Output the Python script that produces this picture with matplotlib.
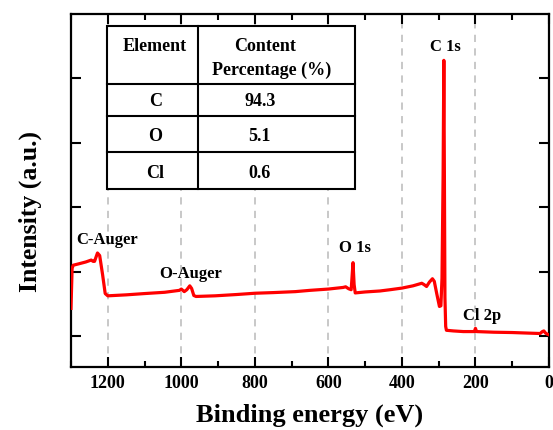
import matplotlib
matplotlib.use("Agg")
import matplotlib.pyplot as plt
from matplotlib.patches import Rectangle
from matplotlib.ticker import MultipleLocator

# ---- data ----
binding_energy = [1300, 1297, 1294, 1280, 1260, 1245, 1240, 1236, 1228, 1222, 1214, 1207,
                  1200, 1150, 1100, 1045, 1005, 1000, 992, 985, 977, 972, 966, 960,
                  908, 850, 800, 750, 690, 650, 600, 560, 553, 545, 538, 533, 530, 527,
                  500, 460, 432, 400, 370, 346, 340, 333, 325, 317, 312, 305, 298,
                  294, 291, 288, 286, 284.5, 283, 281, 279, 260, 233, 203, 200, 197,
                  150, 100, 50, 24, 18, 14, 10, 5, 0]
intensity = [0.43, 1.05, 1.10, 1.12, 1.15, 1.18, 1.16, 1.16, 1.29, 1.25, 0.95, 0.66,
             0.625, 0.64, 0.66, 0.68, 0.71, 0.73, 0.69, 0.72, 0.78, 0.74, 0.63, 0.615,
             0.625, 0.645, 0.665, 0.675, 0.69, 0.71, 0.73, 0.755, 0.765, 0.735, 0.72, 1.14, 0.80, 0.67,
             0.685, 0.70, 0.72, 0.745, 0.78, 0.82, 0.80, 0.77, 0.84, 0.89, 0.85, 0.65, 0.46,
             0.47, 0.9, 2.5, 4.28, 2.5, 0.6, 0.15, 0.09, 0.08, 0.07, 0.07, 0.12, 0.07,
             0.06, 0.055, 0.045, 0.04, 0.07, 0.08, 0.05, 0.03, 0.02]

peak_labels = ["C-Auger", "O-Auger", "O 1s", "C 1s", "Cl 2p"]
peak_label_x = [1203, 975, 527, 281, 183]
peak_label_y = [1.49, 0.96, 1.36, 4.49, 0.31]

table_header = ["Element", "Content\nPercentage (%)"]
elements = ["C", "O", "Cl"]
percentages = ["94.3", "5.1", "0.6"]

x_ticks = [1200, 1000, 800, 600, 400, 200, 0]

FONT = "Liberation Serif"
plt.rcParams["font.family"] = [FONT, "DejaVu Serif"]
plt.rcParams["font.weight"] = "bold"

fig = plt.figure(figsize=(5.53, 4.30), dpi=100)
ax = fig.add_axes([71 / 553, 1 - 367 / 430, 478 / 553, 353 / 430])

ax.plot(binding_energy, intensity, color="#ff0000", lw=2.3, zorder=3)

ax.set_xlim(1300, 0)
ax.set_ylim(-0.48, 5.0)
ax.set_xticks(x_ticks)
ax.xaxis.set_minor_locator(MultipleLocator(100))
ax.set_yticks([0, 1, 2, 3, 4])
ax.set_yticklabels([])

for t in ax.get_xticklabels():
    t.set_fontweight("bold")
ax.tick_params(axis="both", which="major", direction="in", length=7, width=1.5,
               top=True, right=True, labelsize=13, pad=6)
ax.tick_params(axis="both", which="minor", direction="in", length=4, width=1.5,
               top=True, right=True)
ax.tick_params(axis="y", which="minor", left=False, right=False)

for s in ax.spines.values():
    s.set_linewidth(1.6)

ax.grid(axis="x", which="major", color="#c4c4c4", lw=1.3, ls=(0, (4, 3.5)), zorder=1)

ax.set_xlabel("Binding energy (eV)", fontsize=19, fontweight="bold")
ax.set_ylabel("Intensity (a.u.)", fontsize=18.5, fontweight="bold")
ax.xaxis.set_label_coords(0.5, -0.105)
ax.yaxis.set_label_coords(-0.06, 0.44)

for lab, lx, ly in zip(peak_labels, peak_label_x, peak_label_y):
    ax.text(lx, ly, lab, ha="center", va="center", fontsize=12, fontweight="bold", zorder=4)

# ---- table ----
L, R, T, B = 0.0753, 0.594, 0.966, 0.504
V = 0.266
H = [0.802, 0.711, 0.609]
ax.add_patch(Rectangle((L, B), R - L, T - B, transform=ax.transAxes, facecolor="white",
                       edgecolor="black", lw=1.5, zorder=5))
for h in H:
    ax.plot([L, R], [h, h], transform=ax.transAxes, color="black", lw=1.5, zorder=6)
ax.plot([V, V], [B, T], transform=ax.transAxes, color="black", lw=1.5, zorder=6)

TFS = 13
ax.text(0.176, 0.907, table_header[0], transform=ax.transAxes, ha="center", va="center",
        fontsize=TFS, fontweight="bold", zorder=7)
hdr2 = table_header[1].split("\n")
ax.text(0.406, 0.907, hdr2[0], transform=ax.transAxes, ha="center", va="center",
        fontsize=TFS, fontweight="bold", zorder=7)
ax.text(0.42, 0.841, hdr2[1], transform=ax.transAxes, ha="center", va="center",
        fontsize=TFS, fontweight="bold", zorder=7)
row_y = [0.752, 0.652, 0.547]
for el, pc, ry in zip(elements, percentages, row_y):
    ax.text(0.176, ry, el, transform=ax.transAxes, ha="center", va="center",
            fontsize=TFS, fontweight="bold", zorder=7)
    ax.text(0.395, ry, pc, transform=ax.transAxes, ha="center", va="center",
            fontsize=TFS, fontweight="bold", zorder=7)

fig.savefig("out.png", dpi=100)
